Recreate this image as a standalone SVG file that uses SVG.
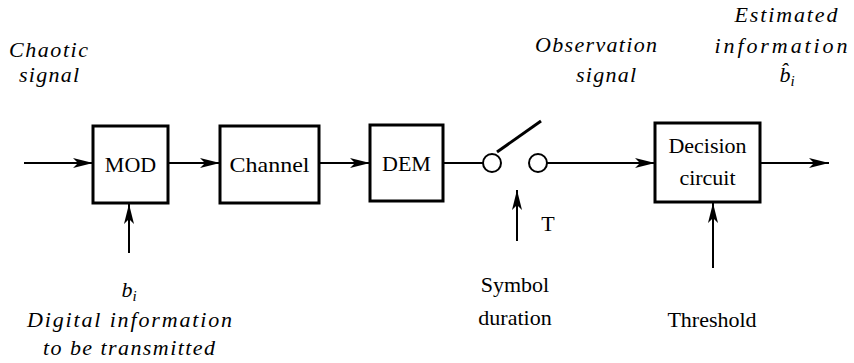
<svg xmlns="http://www.w3.org/2000/svg" width="854" height="363" viewBox="0 0 854 363">
<defs>
<marker id="ah" viewBox="0 0 20 10" refX="20" refY="5" markerWidth="21" markerHeight="10" markerUnits="userSpaceOnUse" orient="auto">
<path d="M0,0 L20,5 L0,10 L5,5 Z" fill="#000"/>
</marker>
<style>
.box{fill:#fff;stroke:#000;stroke-width:3}
.ln{fill:none;stroke:#000;stroke-width:2}
.t{font-family:'Liberation Serif','DejaVu Serif',serif;font-size:22px;fill:#000;text-anchor:middle}
.m{font-family:'Liberation Serif','DejaVu Serif',serif;font-style:italic;font-size:22px;fill:#000;text-anchor:middle}
</style>
</defs>
<rect width="854" height="363" fill="#fff"/>
<g id="connectors">
<line class="ln" x1="24" y1="163" x2="93" y2="163" marker-end="url(#ah)"/>
<line class="ln" x1="168" y1="163" x2="220" y2="163" marker-end="url(#ah)"/>
<line class="ln" x1="319" y1="163" x2="370" y2="163" marker-end="url(#ah)"/>
<line class="ln" x1="443" y1="163" x2="483" y2="163"/>
<line class="ln" x1="547" y1="163" x2="655" y2="163" marker-end="url(#ah)"/>
<line class="ln" x1="760" y1="163" x2="829" y2="163" marker-end="url(#ah)"/>
<line class="ln" x1="129" y1="253" x2="129" y2="204" marker-end="url(#ah)"/>
<line class="ln" x1="517" y1="241" x2="517" y2="190" marker-end="url(#ah)"/>
<line class="ln" x1="713" y1="268" x2="713" y2="203" marker-end="url(#ah)"/>
</g>
<g id="mod"><rect class="box" x="93" y="126" width="75" height="77"/><text class="t" x="130.5" y="172">MOD</text></g>
<g id="channel"><rect class="box" x="220" y="126" width="99" height="77"/><text class="t" x="269.5" y="172" textLength="80" lengthAdjust="spacingAndGlyphs">Channel</text></g>
<g id="dem"><rect class="box" x="370" y="125" width="73" height="76"/><text class="t" x="406.5" y="171">DEM</text></g>
<g id="switch">
<circle cx="492" cy="163" r="9" fill="#fff" stroke="#000" stroke-width="2"/>
<circle cx="538" cy="163" r="9" fill="#fff" stroke="#000" stroke-width="2"/>
<line x1="497" y1="152" x2="541" y2="121" stroke="#000" stroke-width="3"/>
</g>
<g id="decision"><rect class="box" x="655" y="123" width="105" height="79"/><text class="t" x="707.5" y="153">Decision</text><text class="t" x="707.5" y="185">circuit</text></g>
<g id="labels">
<text class="m" x="48.5" y="57" textLength="79" lengthAdjust="spacing">Chaotic</text>
<text class="m" x="49" y="82" textLength="60" lengthAdjust="spacing">signal</text>
<text class="m" x="596" y="52" textLength="122" lengthAdjust="spacing">Observation</text>
<text class="m" x="606" y="82" textLength="60" lengthAdjust="spacing">signal</text>
<text class="m" x="786" y="22" textLength="103" lengthAdjust="spacing">Estimated</text>
<text class="m" x="781" y="53" textLength="133" lengthAdjust="spacing">information</text>
<text class="m" x="787" y="82">b̂<tspan font-size="15" dy="4">i</tspan></text>
<text class="m" x="129" y="297">b<tspan font-size="15" dy="4">i</tspan></text>
<text class="m" x="129.5" y="327" textLength="205" lengthAdjust="spacing">Digital information</text>
<text class="m" x="129" y="355" textLength="172" lengthAdjust="spacing">to be transmitted</text>
<text class="t" x="548" y="231">T</text>
<text class="t" x="515" y="292">Symbol</text>
<text class="t" x="515" y="325">duration</text>
<text class="t" x="712" y="327">Threshold</text>
</g>
</svg>
